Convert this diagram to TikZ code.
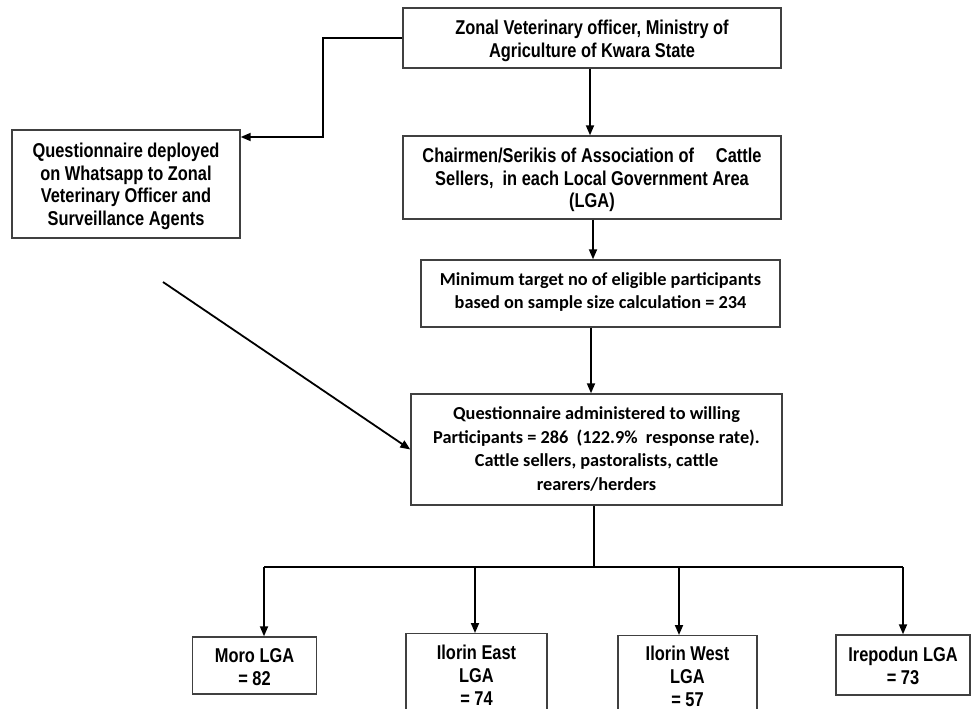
\documentclass[tikz,border=0pt]{standalone}
\usepackage{fontspec}
\usetikzlibrary{arrows.meta}
\newfontfamily\narrowsans[FakeStretch=0.82]{Liberation Sans}
\newfontfamily\carl{Carlito}
\tikzset{
  box/.style={draw=black!75, line width=1.4pt, rectangle, fill=white, inner sep=0pt},
  txt/.style={align=center, inner sep=0pt},
  ntext/.style={txt, font=\narrowsans\bfseries\fontsize{20}{22.5}\selectfont},
  ltext/.style={txt, font=\narrowsans\bfseries\fontsize{20}{23}\selectfont},
  ctext/.style={txt, font=\carl\bfseries\fontsize{18.3}{23.5}\selectfont},
  conn/.style={line width=1.8pt, draw=black, -{Triangle[length=10pt,width=8pt]}},
  plain/.style={line width=1.8pt, draw=black}
}
\begin{document}
\begin{tikzpicture}[x=1pt,y=-1pt]
\clip (0,0) rectangle (974,709);
\fill[white] (0,0) rectangle (974,709);

% boxes
\node[box, minimum width=378pt, minimum height=60pt] (A) at (592,38) {};
\node[box, minimum width=228pt, minimum height=108pt] (Q) at (126,184) {};
\node[box, minimum width=378pt, minimum height=83pt] (B) at (592,177.5) {};
\node[box, minimum width=359pt, minimum height=67pt] (C) at (600.5,293.5) {};
\node[box, minimum width=371pt, minimum height=111pt] (D) at (596.5,449.5) {};
\node[box, minimum width=124pt, minimum height=57pt] (L1) at (254.5,665.5) {};
\node[box, minimum width=141pt, minimum height=100pt, anchor=north] (L2) at (476.5,633) {};
\node[box, minimum width=139pt, minimum height=100pt, anchor=north] (L3) at (687.5,635) {};
\node[box, minimum width=134pt, minimum height=60pt] (L4) at (903,665) {};

% texts
\node[ntext] (At) at ([yshift=-3pt]A.center)
  {Zonal Veterinary officer, Ministry of\\Agriculture of Kwara State};
\node[ntext] (Qt) at ([yshift=-2.5pt]Q.center)
  {Questionnaire deployed\\on Whatsapp to Zonal\\Veterinary Officer and\\Surveillance Agents};
\node[ntext] (Bt) at ([yshift=-2.5pt]B.center)
  {Chairmen/Serikis of Association of\hspace{22pt}Cattle\\Sellers,\ \ in each Local Government Area\\(LGA)};
\node[ctext] (Ct) at ([yshift=1.5pt]C.center)
  {Minimum target no of eligible participants\\based on sample size calculation = 234};
\node[ctext] (Dt) at ([yshift=0.5pt]D.center)
  {Questionnaire administered to willing\\Participants = 286\ \ (122.9\%\ \ response rate).\\Cattle sellers, pastoralists, cattle\\rearers/herders};
\node[ltext] (L1t) at ([yshift=-1.5pt]L1.center) {Moro LGA\\= 82};
\node[ltext, anchor=center] (L2t) at (476.5,675.5) {Ilorin East\\LGA\\= 74};
\node[ltext, anchor=center] (L3t) at (687.5,676.5) {Ilorin West\\LGA\\= 57};
\node[ltext] (L4t) at ([yshift=-0.5pt]L4.center) {Irepodun LGA\\= 73};

% connectors
\coordinate (qa) at (323,38);
\draw[conn] (A.west |- qa) -| (323,137) -- (Q.east |- 0,137);
\draw[conn] (A.south -| 590,0) -- (B.north -| 590,0);
\draw[conn] (B.south -| 593,0) -- (C.north -| 593,0);
\draw[conn] (C.south -| 591,0) -- (D.north -| 591,0);
\coordinate (qs) at (163,282);
\draw[conn] (qs) -- (D.west);

\coordinate (split) at (594,567);
\draw[plain] (D.south -| split) -- (split);
\draw[plain] (264,567) -- (903,567);
\draw[conn] (264,567) -- (L1.north -| 264,0);
\draw[conn] (475,567) -- (L2.north -| 475,0);
\draw[conn] (679,567) -- (L3.north -| 679,0);
\draw[conn] (903,567) -- (L4.north -| 903,0);
\end{tikzpicture}
\end{document}
